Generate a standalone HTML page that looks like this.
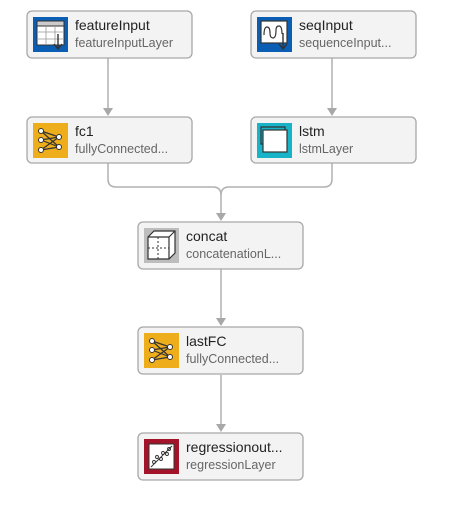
<!DOCTYPE html>
<html><head><style>
body{margin:0;background:#fff;}
svg text{font-family:"Liberation Sans",Arial,sans-serif;}
.t{font-size:14px;fill:#222;}
.s{font-size:12.5px;fill:#666;}
.b{fill:#f3f3f3;stroke:#a8a8a8;stroke-width:1.3;}
.e{fill:none;stroke:#b0b0b0;stroke-width:1.5;}
.a{fill:#a8a8a8;}
</style></head><body>
<svg width="453" height="502" viewBox="0 0 453 502" xmlns="http://www.w3.org/2000/svg">
<!-- edges -->
<path class="e" d="M108 58V110"/><polygon class="a" points="103,108 113,108 108,116"/>
<path class="e" d="M332 58V110"/><polygon class="a" points="327,108 337,108 332,116"/>
<path class="e" d="M108 163V179Q108 187 116 187H213Q221 187 221 195V215"/>
<path class="e" d="M332 163V179Q332 187 324 187H229Q221 187 221 195"/>
<polygon class="a" points="216,213 226,213 221,221"/>
<path class="e" d="M221 269V320"/><polygon class="a" points="216,318 226,318 221,326"/>
<path class="e" d="M221 375V426"/><polygon class="a" points="216,424 226,424 221,432"/>

<!-- featureInput -->
<rect class="b" x="27" y="11" width="165" height="47" rx="5"/>
<rect x="33" y="17" width="35" height="35" fill="#0a5fb4"/>
<rect x="37" y="21" width="27" height="24" fill="#fff" stroke="#333" stroke-width="1"/>
<rect x="37" y="21" width="27" height="5" fill="#ccc" stroke="#333" stroke-width="1"/>
<path d="M37 32H64M37 39H64M46 26V45M55 26V45" stroke="#999" stroke-width="0.8"/>
<path d="M58 34V48M54 44L58 49L62 44" stroke="#333" stroke-width="1.4" fill="none"/>
<text class="t" x="75" y="30">featureInput</text>
<text class="s" x="75" y="47">featureInputLayer</text>

<!-- seqInput -->
<rect class="b" x="251" y="11" width="165" height="47" rx="5"/>
<rect x="257" y="17" width="35" height="35" fill="#0a5fb4"/>
<rect x="261" y="21" width="26" height="22" fill="#fff" stroke="#333" stroke-width="1.2"/>
<path d="M264 35Q264 27 267 27Q270 27 270 33Q270 38 273 38Q276 38 276 30Q276 26 279 26Q282 26 282 34" stroke="#333" stroke-width="1.2" fill="none"/>
<path d="M283 33V48M279 44L283 49L287 44" stroke="#333" stroke-width="1.4" fill="none"/>
<text class="t" x="299" y="30">seqInput</text>
<text class="s" x="299" y="47">sequenceInput...</text>

<!-- fc1 -->
<rect class="b" x="27" y="117" width="165" height="46" rx="5"/>
<g transform="translate(33,123)">
<rect width="35" height="35" fill="#eeae1c"/>
<path d="M8 8L26 14M8 8L26 24M8 17L26 14M8 17L26 24M8 27L26 14M8 27L26 24" stroke="#333" stroke-width="1.2"/>
<g fill="#fff" stroke="#333" stroke-width="1"><circle cx="8" cy="8" r="2.5"/><circle cx="8" cy="17" r="2.5"/><circle cx="8" cy="27" r="2.5"/><circle cx="26" cy="14" r="2.5"/><circle cx="26" cy="24" r="2.5"/></g>
</g>
<text class="t" x="75" y="136">fc1</text>
<text class="s" x="75" y="153">fullyConnected...</text>

<!-- lstm -->
<rect class="b" x="251" y="117" width="165" height="46" rx="5"/>
<rect x="257" y="123" width="35" height="35" fill="#19b3c8"/>
<rect x="263" y="130" width="24" height="22" fill="#fff" stroke="#333" stroke-width="1.2"/>
<path d="M263 144H261V127H285V130" stroke="#333" stroke-width="1.2" fill="none"/>
<text class="t" x="299" y="136">lstm</text>
<text class="s" x="299" y="153">lstmLayer</text>

<!-- concat -->
<rect class="b" x="138" y="222" width="165" height="47" rx="5"/>
<rect x="144" y="228" width="35" height="35" fill="#bdbdbd"/>
<path d="M148 237L154 231H175V253L169 259H148Z" fill="#fff" stroke="#333" stroke-width="1.2"/>
<path d="M148 237H169V259M169 237L175 231" stroke="#333" stroke-width="1.2" fill="none"/>
<path d="M158 237V259M148 248H169" stroke="#333" stroke-width="1" stroke-dasharray="2,2"/>
<text class="t" x="186" y="241">concat</text>
<text class="s" x="186" y="258">concatenationL...</text>

<!-- lastFC -->
<rect class="b" x="138" y="327" width="165" height="47" rx="5"/>
<g transform="translate(144,333)">
<rect width="35" height="35" fill="#eeae1c"/>
<path d="M8 8L26 14M8 8L26 24M8 17L26 14M8 17L26 24M8 27L26 14M8 27L26 24" stroke="#333" stroke-width="1.2"/>
<g fill="#fff" stroke="#333" stroke-width="1"><circle cx="8" cy="8" r="2.5"/><circle cx="8" cy="17" r="2.5"/><circle cx="8" cy="27" r="2.5"/><circle cx="26" cy="14" r="2.5"/><circle cx="26" cy="24" r="2.5"/></g>
</g>
<text class="t" x="186" y="346">lastFC</text>
<text class="s" x="186" y="363">fullyConnected...</text>

<!-- regression -->
<rect class="b" x="138" y="433" width="165" height="47" rx="5"/>
<rect x="144" y="439" width="35" height="35" fill="#a3142a"/>
<rect x="149" y="444" width="25" height="25" fill="#fff" stroke="#333" stroke-width="1"/>
<path d="M151 467L172 446" stroke="#333" stroke-width="1"/>
<g fill="none" stroke="#333" stroke-width="0.9"><circle cx="154" cy="462" r="1.5"/><circle cx="157" cy="457" r="1.5"/><circle cx="161" cy="459" r="1.5"/><circle cx="163" cy="453" r="1.5"/><circle cx="167" cy="454" r="1.5"/><circle cx="169" cy="449" r="1.5"/></g>
<text class="t" x="186" y="452">regressionout...</text>
<text class="s" x="186" y="469">regressionLayer</text>
</svg>
</body></html>
